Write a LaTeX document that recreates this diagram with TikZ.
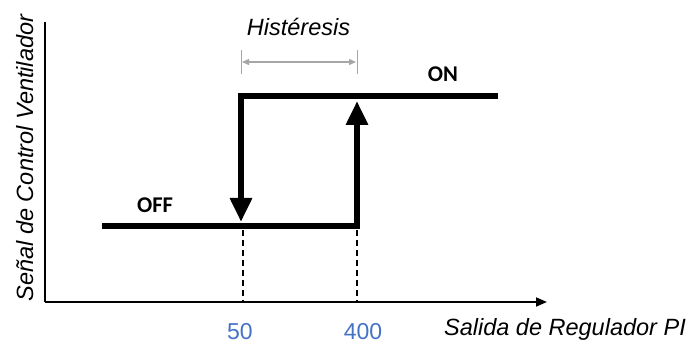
\documentclass[tikz,border=0pt]{standalone}
\usepackage{fontspec}
\setmainfont{Liberation Sans}
\newfontfamily\calib{Carlito}
\usetikzlibrary{arrows.meta}
\definecolor{numblue}{HTML}{4472C4}
\definecolor{hgray}{HTML}{A6A6A6}
\begin{document}
\begin{tikzpicture}[x=1pt,y=-1pt,
  axislbl/.style={font=\fontsize{23.5}{28}\selectfont\itshape, inner sep=0pt},
  numlbl/.style={font=\fontsize{23}{28}\selectfont, text=numblue, inner sep=0pt, anchor=base},
  statelbl/.style={font=\calib\fontsize{22.5}{26}\selectfont\bfseries, inner sep=0pt, anchor=base},
  axisline/.style={line width=1.8pt},
  stepline/.style={line width=6.5pt, line join=miter, line cap=butt},
  bigtip/.style={-{Triangle[length=24pt,width=21pt]}},
  guide/.style={dashed, line width=1.2pt, dash pattern=on 6pt off 4pt},
  tick/.style={hgray, line width=1pt},
  harrow/.style={hgray, line width=1.2pt, {Triangle[length=7pt,width=6pt]}-{Triangle[length=7pt,width=6pt]}}]
\useasboundingbox (0,0) rectangle (694,350);
% axes
\coordinate (O) at (45,302);
\coordinate (ytop) at (45,22);
\coordinate (xend) at (547,302);
\draw[axisline] (ytop) -- (O);
\draw[axisline, -{Triangle[length=11pt,width=9pt]}] (O) -- (xend);
% step path coordinates
\coordinate (offstart) at (102,226);
\coordinate (lowcorner) at (357,226);
\coordinate (uptip) at (357,101);
\coordinate (onend) at (498,96);
\coordinate (highcorner) at (241,96);
\coordinate (downtip) at (241,222);
\draw[stepline] (offstart) -- (lowcorner) -- ([yshift=-20pt]uptip);
\draw[line width=6.5pt, bigtip] ([yshift=-20pt]uptip) -- (uptip);
\draw[stepline] (onend) -- (highcorner) -- ([yshift=20pt]downtip);
\draw[line width=6.5pt, bigtip] ([yshift=20pt]downtip) -- (downtip);
% dashed guides
\coordinate (g1top) at (243,230);
\coordinate (g2top) at (357,230);
\draw[guide] (g1top) -- (g1top |- O);
\draw[guide] (g2top) -- (g2top |- O);
% hysteresis marker
\coordinate (t1a) at (241,50);
\coordinate (t1b) at (241,74);
\coordinate (t2a) at (357,50);
\coordinate (t2b) at (357,74);
\draw[tick] (t1a) -- (t1b);
\draw[tick] (t2a) -- (t2b);
\coordinate (h1) at (242,62);
\coordinate (h2) at (356,62);
\draw[harrow] (h1) -- (h2);
% labels
\node[axislbl, anchor=base] (hist) at (298.5,36) {Histéresis};
\node[axislbl, anchor=base] (xlbl) at (565,335) {Salida de Regulador PI};
\node[axislbl, anchor=base, rotate=90] (ylbl) at (33,158) {Señal de Control Ventilador};
\node[numlbl] (n50) at (240,339) {50};
\node[numlbl] (n400) at (363,339) {400};
\node[statelbl] (on) at (443,82) {ON};
\node[statelbl] (off) at (155,213) {OFF};
\end{tikzpicture}
\end{document}
